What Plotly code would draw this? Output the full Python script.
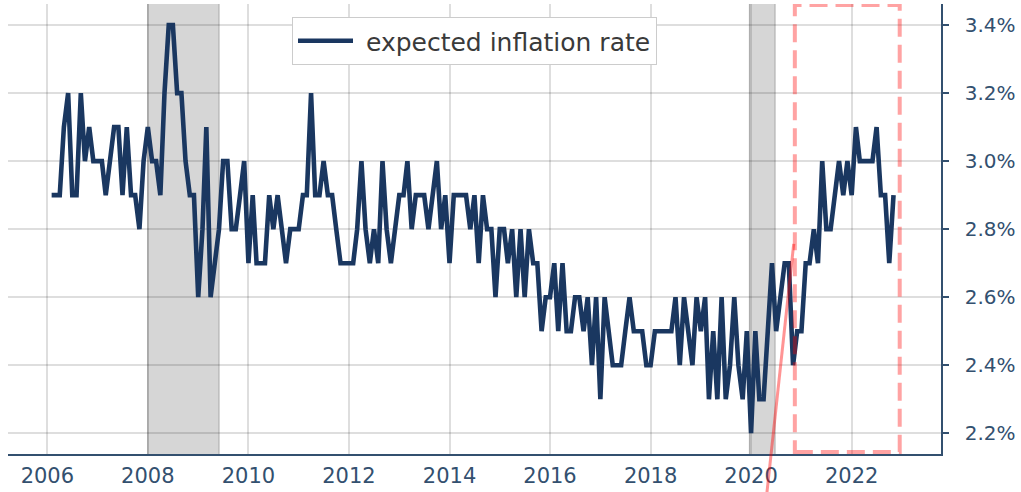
import plotly.graph_objects as go
import pandas as pd

# ---------------- data (monthly, % ) ----------------
start_month = "2006-02-01"
v2006 = [2.9, 2.9, 2.9, 3.1, 3.2, 2.9, 2.9, 3.2, 3.0, 3.1, 3.0]
v2007 = [3.0, 3.0, 2.9, 3.0, 3.1, 3.1, 2.9, 3.1, 2.9, 2.9, 2.8, 3.0]
v2008 = [3.1, 3.0, 3.0, 2.9, 3.2, 3.4, 3.4, 3.2, 3.2, 3.0, 2.9, 2.9]
v2009 = [2.6, 2.8, 3.1, 2.6, 2.7, 2.8, 3.0, 3.0, 2.8, 2.8, 2.9, 3.0]
v2010 = [2.7, 2.9, 2.7, 2.7, 2.7, 2.9, 2.8, 2.9, 2.8, 2.7, 2.8, 2.8]
v2011 = [2.8, 2.9, 2.9, 3.2, 2.9, 2.9, 3.0, 2.9, 2.9, 2.8, 2.7, 2.7]
v2012 = [2.7, 2.7, 2.8, 3.0, 2.8, 2.7, 2.8, 2.7, 3.0, 2.8, 2.7, 2.8]
v2013 = [2.9, 2.9, 3.0, 2.8, 2.9, 2.9, 2.9, 2.8, 2.9, 3.0, 2.8, 2.9]
v2014 = [2.7, 2.9, 2.9, 2.9, 2.9, 2.8, 2.9, 2.7, 2.9, 2.8, 2.8, 2.6]
v2015 = [2.8, 2.8, 2.7, 2.8, 2.6, 2.8, 2.6, 2.8, 2.7, 2.7, 2.5, 2.6]
v2016 = [2.6, 2.7, 2.5, 2.7, 2.5, 2.5, 2.6, 2.6, 2.5, 2.6, 2.4, 2.6]
v2017 = [2.3, 2.6, 2.5, 2.4, 2.4, 2.4, 2.5, 2.6, 2.5, 2.5, 2.5, 2.4]
v2018 = [2.4, 2.5, 2.5, 2.5, 2.5, 2.5, 2.6, 2.4, 2.6, 2.5, 2.4, 2.6]
v2019 = [2.5, 2.6, 2.3, 2.5, 2.3, 2.6, 2.3, 2.4, 2.6, 2.4, 2.3, 2.5]
v2020 = [2.2, 2.5, 2.3, 2.3, 2.5, 2.7, 2.5, 2.6, 2.7, 2.7, 2.4, 2.5]
v2021 = [2.5, 2.7, 2.7, 2.8, 2.7, 3.0, 2.8, 2.8, 2.9, 3.0, 2.9, 3.0]
v2022 = [2.9, 3.1, 3.0, 3.0, 3.0, 3.0, 3.1, 2.9, 2.9, 2.7, 2.9]

series_name = "expected inflation rate"
recessions = [("2008-01-01", "2009-06-01"), ("2019-12-20", "2020-06-23")]
highlight_x = ("2020-11-14", "2022-12-16")
highlight_y = (2.145, 3.459)
year_ticks = list(range(2006, 2023, 2))
pct_ticks = [2.2, 2.4, 2.6, 2.8, 3.0, 3.2, 3.4]

values = (v2006 + v2007 + v2008 + v2009 + v2010 + v2011 + v2012 + v2013 + v2014
          + v2015 + v2016 + v2017 + v2018 + v2019 + v2020 + v2021 + v2022)
dates = pd.date_range(start_month, periods=len(values), freq="MS")

y_range = [2.139, 3.462]
x_range = ["2005-03-21", "2023-10-12"]

NAVY = "#1a3760"
SLATE = "#33506f"
GRID = "rgba(0,0,0,0.13)"
RED = "rgba(255,0,0,0.36)"
FONT = "DejaVu Sans"

fig = go.Figure()
fig.add_trace(go.Scatter(x=dates, y=values, mode="lines", name="\u00a0" + series_name,
                         line=dict(color=NAVY, width=4.6)))

shapes = []
for a, b in recessions:
    shapes.append(dict(type="rect", xref="x", yref="paper", x0=a, x1=b, y0=0, y1=1,
                       fillcolor="#d6d6d6", line=dict(width=0), layer="below"))
    for e in (a, b):
        shapes.append(dict(type="line", xref="x", yref="paper", x0=e, x1=e, y0=0, y1=1,
                           line=dict(color="#a9a9a9", width=1), layer="below"))

# highlighted window
shapes.append(dict(type="rect", xref="x", yref="y",
                   x0=highlight_x[0], x1=highlight_x[1], y0=highlight_y[0], y1=highlight_y[1],
                   line=dict(color=RED, width=4, dash="18px,8px"), fillcolor="rgba(0,0,0,0)",
                   layer="above"))


def ypaper(v):
    return (v - y_range[0]) / (y_range[1] - y_range[0])


# connector line leaving the chart
shapes.append(dict(type="line", xref="x", yref="paper",
                   x0="2020-11-06", y0=ypaper(2.757),
                   x1="2020-03-16", y1=-0.2,
                   line=dict(color="rgba(255,0,0,0.42)", width=3), layer="above"))

fig.update_layout(
    width=1021, height=492,
    margin=dict(l=8, r=80, t=4, b=38),
    paper_bgcolor="white", plot_bgcolor="white",
    font=dict(family=FONT, color=SLATE),
    shapes=shapes,
    showlegend=True,
    legend=dict(x=0.5, xanchor="center", y=0.971, yanchor="top",
                bgcolor="white", bordercolor="#cccccc", borderwidth=1,
                font=dict(size=25, color="#3a3a3a", family=FONT),
                itemwidth=55),
    xaxis=dict(range=x_range, type="date",
               tickvals=[f"{y}-01-01" for y in year_ticks],
               ticktext=[str(y) for y in year_ticks],
               showgrid=True, gridcolor=GRID, gridwidth=1.5,
               showline=True, linecolor=SLATE, linewidth=1.5,
               ticks="", tickfont=dict(size=21, color=SLATE, family=FONT),
               ticklabelstandoff=2, zeroline=False),
    yaxis=dict(range=y_range, side="right",
               tickvals=pct_ticks, ticktext=[f"{t:.1f}%" for t in pct_ticks],
               showgrid=True, gridcolor=GRID, gridwidth=1.5,
               showline=True, linecolor=SLATE, linewidth=1.5,
               ticks="outside", ticklen=6, tickcolor=SLATE, tickwidth=1.5,
               tickfont=dict(size=20, color=SLATE, family=FONT),
               ticklabelstandoff=12, zeroline=False),
)

fig.write_html("out.html", config={"displayModeBar": False},
               post_script="document.body.style.margin='0px';")
